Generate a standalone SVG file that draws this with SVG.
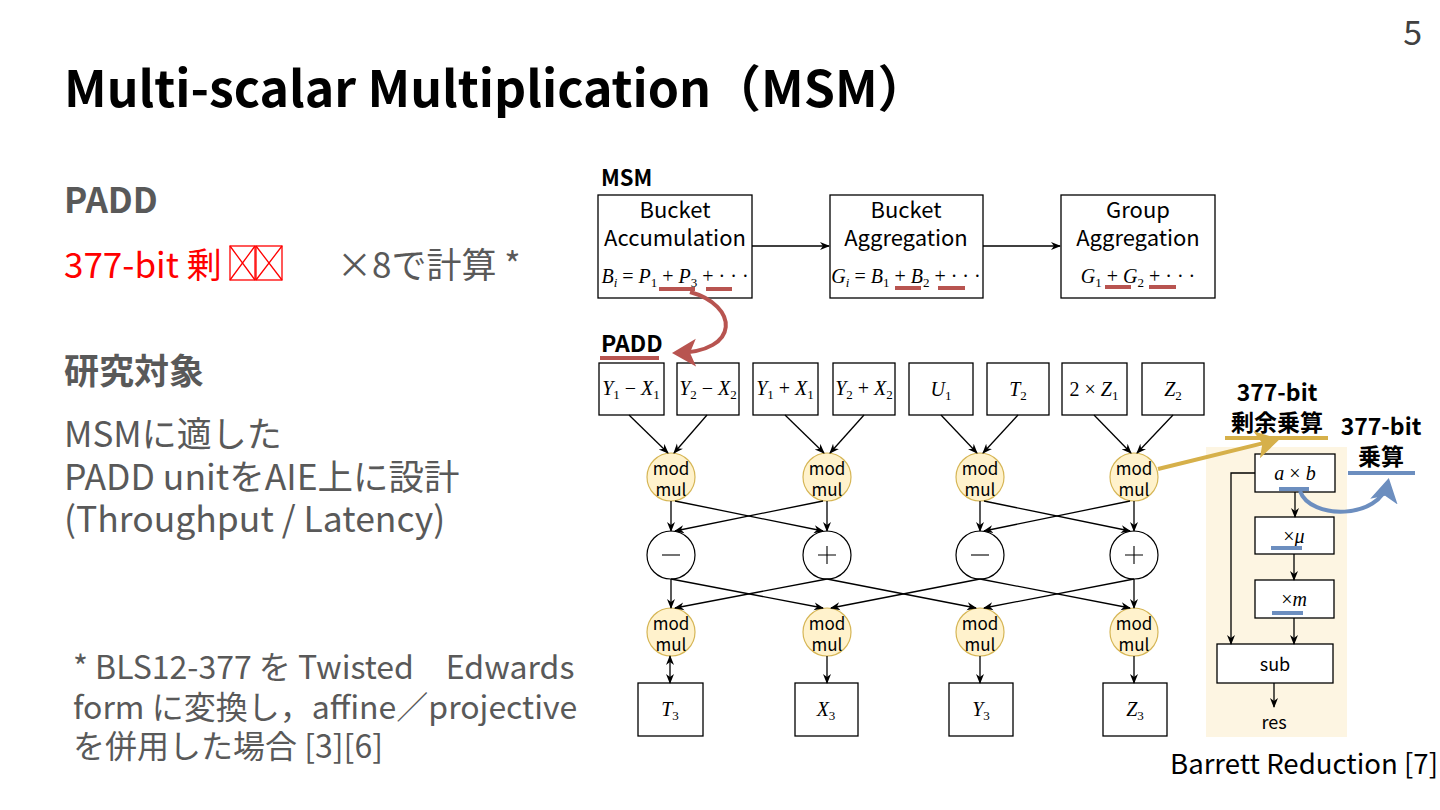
<svg xmlns="http://www.w3.org/2000/svg" width="1440" height="810" viewBox="0 0 1440 810">
<defs>
<style>
.t{font-family:"Noto Sans CJK JP","Noto Sans",sans-serif}
.b{font-weight:bold}
.g{fill:#595959}
.m{font-family:"Liberation Serif","DejaVu Serif",serif;font-size:20px;fill:#000}
.i{font-style:italic}
.s{font-size:13px}
.box{fill:#fff;stroke:#000;stroke-width:1.3}
.mm{fill:#fff2cc;stroke:#d6b656;stroke-width:1.2}
.op{fill:#fff;stroke:#000;stroke-width:1.2}
.ln{stroke:#000;stroke-width:1.3;fill:none}
.red{stroke:#b85450;stroke-width:4;fill:none}
.blu{stroke:#6c8ebf;stroke-width:4;fill:none}
.gld{stroke:#d6b04a;stroke-width:4;fill:none}
.dg{font-size:22px;fill:#000}
.mt{font-size:17px;fill:#000}
</style>
<marker id="ah" markerWidth="10" markerHeight="10" refX="9" refY="5" orient="auto" markerUnits="userSpaceOnUse"><path d="M0,1 L10,5 L0,9 L3,5 z" fill="#000"/></marker>
<marker id="ahs" markerWidth="10" markerHeight="10" refX="1" refY="5" orient="auto" markerUnits="userSpaceOnUse"><path d="M10,1 L0,5 L10,9 L7,5 z" fill="#000"/></marker>
<marker id="ar" markerWidth="8" markerHeight="8" refX="5" refY="4" orient="auto" markerUnits="strokeWidth"><path d="M0,0.5 L6,4 L0,7.5 L1.5,4 z" fill="#b85450"/></marker>
<marker id="ag" markerWidth="8" markerHeight="8" refX="5" refY="4" orient="auto" markerUnits="strokeWidth"><path d="M0,0.5 L6,4 L0,7.5 L1.5,4 z" fill="#d6b04a"/></marker>
<marker id="ab" markerWidth="8" markerHeight="8" refX="5" refY="4" orient="auto" markerUnits="strokeWidth"><path d="M0,0.5 L6,4 L0,7.5 L1.5,4 z" fill="#6c8ebf"/></marker>
</defs>
<rect width="1440" height="810" fill="#fff"/>

<g id="slide-text">
<text class="t" x="1422" y="45" font-size="34" text-anchor="end" fill="#404040">5</text>
<text class="t b" x="64" y="107" font-size="50" fill="#000">Multi-scalar Multiplication（MSM）</text>
<text class="t b g" x="64" y="213" font-size="35">PADD</text>
<text class="t" x="64" y="278" font-size="35" fill="#ff0000">377-bit 剰</text>
<g stroke="#ff0000" stroke-width="1.3" fill="none">
<rect x="230" y="246" width="25" height="34"/><path d="M230,246 L255,280 M255,246 L230,280"/>
<rect x="256" y="246" width="26" height="34"/><path d="M256,246 L282,280 M282,246 L256,280"/>
</g>
<text class="t g" x="337" y="278" font-size="35">×8で計算 *</text>
<text class="t b g" x="64" y="384" font-size="35">研究対象</text>
<text class="t g" x="64" y="447" font-size="35">MSMに適した</text>
<text class="t g" x="64" y="490" font-size="35.5">PADD unitをAIE上に設計</text>
<text class="t g" x="64" y="532" font-size="35.5">(Throughput / Latency)</text>
<text class="t g" x="73" y="679" font-size="32">* BLS12-377 を Twisted　Edwards</text>
<text class="t g" x="73" y="719" font-size="32">form に変換し，affine／projective</text>
<text class="t g" x="73" y="758" font-size="32">を併用した場合 [3][6]</text>
<text class="t" x="1170" y="774" font-size="27.6" fill="#000">Barrett Reduction [7]</text>
</g>

<g id="msm-label"><text class="t b" x="601" y="186" font-size="22">MSM</text></g>

<g id="bucket-accumulation">
<rect class="box" x="598" y="195" width="154" height="103"/>
<text class="t dg" x="675" y="218" text-anchor="middle">Bucket</text>
<text class="t dg" x="675" y="246" text-anchor="middle">Accumulation</text>
<text class="m" x="675" y="283" text-anchor="middle"><tspan class="i">B</tspan><tspan class="s i" dy="4">i</tspan><tspan dy="-4"> = </tspan><tspan class="i">P</tspan><tspan class="s" dy="4">1</tspan><tspan dy="-4"> + </tspan><tspan class="i">P</tspan><tspan class="s" dy="4">3</tspan><tspan dy="-4"> + · · ·</tspan></text>
</g>
<g id="bucket-aggregation">
<rect class="box" x="830" y="195" width="153" height="103"/>
<text class="t dg" x="906" y="218" text-anchor="middle">Bucket</text>
<text class="t dg" x="906" y="246" text-anchor="middle">Aggregation</text>
<text class="m" x="906" y="283" text-anchor="middle"><tspan class="i">G</tspan><tspan class="s i" dy="4">i</tspan><tspan dy="-4"> = </tspan><tspan class="i">B</tspan><tspan class="s" dy="4">1</tspan><tspan dy="-4"> + </tspan><tspan class="i">B</tspan><tspan class="s" dy="4">2</tspan><tspan dy="-4"> + · · ·</tspan></text>
</g>
<g id="group-aggregation">
<rect class="box" x="1061" y="195" width="154" height="103"/>
<text class="t dg" x="1138" y="218" text-anchor="middle">Group</text>
<text class="t dg" x="1138" y="246" text-anchor="middle">Aggregation</text>
<text class="m" x="1138" y="283" text-anchor="middle"><tspan class="i">G</tspan><tspan class="s" dy="4">1</tspan><tspan dy="-4"> + </tspan><tspan class="i">G</tspan><tspan class="s" dy="4">2</tspan><tspan dy="-4"> + · · ·</tspan></text>
</g>

<g id="highlights">
<path class="red" d="M659,289 H695 M706,289 H732 M895,288 H921 M938,288 H965 M1105,287 H1131 M1149,287 H1176"/>
<text class="t b" x="601" y="352" font-size="23">PADD</text>
<path class="red" d="M600,358 H659"/>
</g>

<g id="inputs">
<rect class="box" x="599" y="363" width="65" height="52"/>
<text class="m" x="631" y="395" text-anchor="middle"><tspan class="i">Y</tspan><tspan class="s" dy="4">1</tspan><tspan dy="-4"> − </tspan><tspan class="i">X</tspan><tspan class="s" dy="4">1</tspan></text>
<rect class="box" x="677" y="363" width="62" height="52"/>
<text class="m" x="708" y="395" text-anchor="middle"><tspan class="i">Y</tspan><tspan class="s" dy="4">2</tspan><tspan dy="-4"> − </tspan><tspan class="i">X</tspan><tspan class="s" dy="4">2</tspan></text>
<rect class="box" x="753" y="363" width="65" height="52"/>
<text class="m" x="785" y="395" text-anchor="middle"><tspan class="i">Y</tspan><tspan class="s" dy="4">1</tspan><tspan dy="-4"> + </tspan><tspan class="i">X</tspan><tspan class="s" dy="4">1</tspan></text>
<rect class="box" x="833" y="363" width="62" height="52"/>
<text class="m" x="864" y="395" text-anchor="middle"><tspan class="i">Y</tspan><tspan class="s" dy="4">2</tspan><tspan dy="-4"> + </tspan><tspan class="i">X</tspan><tspan class="s" dy="4">2</tspan></text>
<rect class="box" x="909" y="363" width="64" height="52"/>
<text class="m" x="941" y="396" text-anchor="middle"><tspan class="i">U</tspan><tspan class="s" dy="4">1</tspan></text>
<rect class="box" x="987" y="363" width="62" height="52"/>
<text class="m" x="1018" y="396" text-anchor="middle"><tspan class="i">T</tspan><tspan class="s" dy="4">2</tspan></text>
<rect class="box" x="1062" y="363" width="65" height="52"/>
<text class="m" x="1094" y="396" text-anchor="middle">2 × <tspan class="i">Z</tspan><tspan class="s" dy="4">1</tspan></text>
<rect class="box" x="1142" y="363" width="62" height="52"/>
<text class="m" x="1173" y="396" text-anchor="middle"><tspan class="i">Z</tspan><tspan class="s" dy="4">2</tspan></text>
</g>

<g id="modmul-row1">
<circle class="mm" cx="671" cy="477" r="24"/><circle class="mm" cx="827" cy="477" r="24"/><circle class="mm" cx="980" cy="477" r="24"/><circle class="mm" cx="1134" cy="477" r="24"/>
<g class="t mt" text-anchor="middle">
<text x="671" y="475">mod</text><text x="671" y="496">mul</text>
<text x="827" y="475">mod</text><text x="827" y="496">mul</text>
<text x="980" y="475">mod</text><text x="980" y="496">mul</text>
<text x="1134" y="475">mod</text><text x="1134" y="496">mul</text>
</g>
</g>

<g id="ops">
<circle class="op" cx="671" cy="555" r="24"/><circle class="op" cx="827" cy="555" r="24"/><circle class="op" cx="980" cy="555" r="24"/><circle class="op" cx="1134" cy="555" r="24"/>
<g stroke="#000" stroke-width="1.1">
<path d="M662,555 H680"/><path d="M818,555 H836 M827,546 V564"/><path d="M971,555 H989"/><path d="M1125,555 H1143 M1134,546 V564"/>
</g>
</g>

<g id="modmul-row2">
<circle class="mm" cx="671" cy="632" r="24"/><circle class="mm" cx="827" cy="632" r="24"/><circle class="mm" cx="980" cy="632" r="24"/><circle class="mm" cx="1134" cy="632" r="24"/>
<g class="t mt" text-anchor="middle">
<text x="671" y="630">mod</text><text x="671" y="651">mul</text>
<text x="827" y="630">mod</text><text x="827" y="651">mul</text>
<text x="980" y="630">mod</text><text x="980" y="651">mul</text>
<text x="1134" y="630">mod</text><text x="1134" y="651">mul</text>
</g>
</g>

<g id="outputs">
<rect class="box" x="638" y="683" width="65" height="53"/><text class="m" x="670" y="716" text-anchor="middle"><tspan class="i">T</tspan><tspan class="s" dy="4">3</tspan></text>
<rect class="box" x="795" y="683" width="63" height="53"/><text class="m" x="826" y="716" text-anchor="middle"><tspan class="i">X</tspan><tspan class="s" dy="4">3</tspan></text>
<rect class="box" x="949" y="683" width="64" height="53"/><text class="m" x="981" y="716" text-anchor="middle"><tspan class="i">Y</tspan><tspan class="s" dy="4">3</tspan></text>
<rect class="box" x="1103" y="683" width="64" height="53"/><text class="m" x="1135" y="716" text-anchor="middle"><tspan class="i">Z</tspan><tspan class="s" dy="4">3</tspan></text>
</g>

<g id="barrett-panel">
<rect x="1206" y="447" width="141" height="290" fill="#fdf5e2"/>
<rect class="box" x="1255" y="454" width="80" height="38"/>
<text class="m" x="1295" y="480" text-anchor="middle" font-size="22"><tspan class="i">a</tspan> × <tspan class="i">b</tspan></text>
<rect class="box" x="1255" y="517" width="79" height="37"/>
<text class="m" x="1294" y="543" text-anchor="middle" font-size="22">×<tspan class="i">μ</tspan></text>
<rect class="box" x="1255" y="580" width="79" height="38"/>
<text class="m" x="1294" y="606" text-anchor="middle" font-size="22">×<tspan class="i">m</tspan></text>
<rect class="box" x="1217" y="644" width="116" height="39"/>
<text class="t" x="1275" y="671" text-anchor="middle" font-size="18">sub</text>
<text class="t" x="1274" y="729" text-anchor="middle" font-size="18">res</text>
</g>

<g id="labels-377">
<text class="t b" x="1277" y="401" text-anchor="middle" font-size="23">377-bit</text>
<text class="t b" x="1277" y="431" text-anchor="middle" font-size="23">剰余乗算</text>
<path class="gld" d="M1225,438 H1328"/>
<text class="t b" x="1381" y="435" text-anchor="middle" font-size="23">377-bit</text>
<text class="t b" x="1381" y="465" text-anchor="middle" font-size="23">乗算</text>
<path class="blu" d="M1348,473 H1415"/>
<path class="blu" d="M1279,489 H1309 M1271,548 H1302 M1272,613 H1303"/>
</g>

<g id="connectors">
<path class="ln" marker-end="url(#ah)" d="M752,246 H829"/>
<path class="ln" marker-end="url(#ah)" d="M983,246 H1060"/>
<path class="red" marker-end="url(#ar)" d="M690,292 C738,305 742,352 676,353"/>
<g class="ln" marker-end="url(#ah)">
<path d="M629,415 L668,453"/><path d="M707,415 L674,453"/>
<path d="M785,415 L824,453"/><path d="M864,415 L830,453"/>
<path d="M941,415 L977,453"/><path d="M1018,415 L983,453"/>
<path d="M1094,415 L1131,453"/><path d="M1173,415 L1137,453"/>
<path d="M671,501 V531"/><path d="M675,501 L823,531"/><path d="M823,501 L675,531"/><path d="M827,501 V531"/>
<path d="M980,501 V531"/><path d="M984,501 L1130,531"/><path d="M1130,501 L984,531"/><path d="M1134,501 V531"/>
<path d="M671,579 V608"/><path d="M671,579 L823,608"/>
<path d="M827,579 L675,608"/><path d="M827,579 L976,608"/>
<path d="M980,579 L831,608"/><path d="M980,579 L1130,608"/>
<path d="M1134,579 L984,608"/><path d="M1134,579 V608"/>
<path d="M827,656 V683"/><path d="M980,656 V683"/><path d="M1134,656 V683"/>
<path d="M1295,492 V517"/><path d="M1294,554 V580"/><path d="M1294,618 V644"/>
<path d="M1255,473 H1231 V644"/>
<path d="M1274,683 V707"/>
</g>
<path class="ln" marker-start="url(#ahs)" marker-end="url(#ah)" d="M670,656 V683"/>
<path class="gld" marker-end="url(#ag)" d="M1158,469 L1276,440"/>
<path class="blu" marker-end="url(#ab)" d="M1300,491 C1310,520 1380,520 1388,482"/>
</g>
</svg>
